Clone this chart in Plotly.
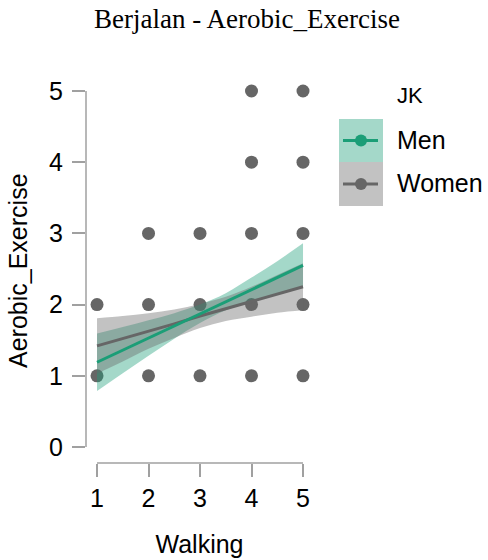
import plotly.graph_objects as go

# ---------------- data ----------------
title_text = "Berjalan - Aerobic_Exercise"
x_title = "Walking"
y_title = "Aerobic_Exercise"
x_ticks = [1, 2, 3, 4, 5]
y_ticks = [0, 1, 2, 3, 4, 5]

# observed points (overlapping values appear as single dots)
pts_x = [1, 1, 2, 2, 2, 3, 3, 3, 4, 4, 4, 4, 4, 5, 5, 5, 5, 5]
pts_y = [1, 2, 1, 2, 3, 1, 2, 3, 1, 2, 3, 4, 5, 1, 2, 3, 4, 5]

# fitted lines with confidence bands
fit_x = [1, 1.5, 2, 2.5, 3, 3.5, 4, 4.5, 5]
men_fit = [1.19, 1.36, 1.53, 1.70, 1.87, 2.04, 2.21, 2.38, 2.55]
men_lo = [0.785, 1.035, 1.28, 1.52, 1.74, 1.92, 2.04, 2.15, 2.24]
men_hi = [1.595, 1.685, 1.78, 1.88, 2.00, 2.16, 2.38, 2.61, 2.86]
women_fit = [1.42, 1.52, 1.63, 1.73, 1.84, 1.94, 2.04, 2.15, 2.25]
women_lo = [1.03, 1.20, 1.38, 1.53, 1.67, 1.77, 1.83, 1.885, 1.92]
women_hi = [1.81, 1.84, 1.88, 1.93, 2.01, 2.11, 2.25, 2.415, 2.58]

legend_title = "JK"
groups = ["Men", "Women"]

# ---------------- style ----------------
W, H = 488, 560
PW, PH = 227, 386
ML, MT = 86, 77
MR, MB = W - ML - PW, H - MT - PH
GREEN = "#1b9e77"
GREY = "#666666"
GREEN_FILL = "rgba(27,158,119,0.40)"
GREY_FILL = "rgba(102,102,102,0.40)"
AX = "#a0a0a0"
SANS = "Liberation Sans, Arial, sans-serif"
SERIF = "Liberation Serif, Times New Roman, serif"


def px(xs):
    return (xs - ML) / PW


def py(ys):
    return (H - MB - ys) / PH


fig = go.Figure()

fig.add_trace(go.Scatter(x=pts_x, y=pts_y, mode="markers",
                         marker=dict(color=GREY, size=13, line=dict(width=0)),
                         showlegend=False, hoverinfo="x+y"))


def band(lo, hi, fill):
    fig.add_trace(go.Scatter(x=fit_x, y=lo, mode="lines", line=dict(width=0, shape="spline"),
                             showlegend=False, hoverinfo="skip"))
    fig.add_trace(go.Scatter(x=fit_x, y=hi, mode="lines", line=dict(width=0, shape="spline"),
                             fill="tonexty", fillcolor=fill, showlegend=False, hoverinfo="skip"))


band(men_lo, men_hi, GREEN_FILL)
band(women_lo, women_hi, GREY_FILL)

fig.add_trace(go.Scatter(x=fit_x, y=women_fit, mode="lines", line=dict(color=GREY, width=3),
                         name=groups[1], showlegend=False))
fig.add_trace(go.Scatter(x=fit_x, y=men_fit, mode="lines", line=dict(color=GREEN, width=3),
                         name=groups[0], showlegend=False))

shapes = []
# axis lines limited to the tick range
shapes.append(dict(type="line", xref="x", yref="paper", x0=x_ticks[0], x1=x_ticks[-1],
                   y0=0, y1=0, line=dict(color=AX, width=1.5)))
shapes.append(dict(type="line", xref="paper", yref="y", x0=0, x1=0,
                   y0=y_ticks[0], y1=y_ticks[-1], line=dict(color=AX, width=1.5)))

annotations = []
# y-axis title
annotations.append(dict(text=y_title, xref="paper", yref="paper", x=px(18), y=py(271),
                        xanchor="center", yanchor="middle", textangle=-90, showarrow=False,
                        font=dict(family=SANS, size=25, color="#000000")))
# manual legend
annotations.append(dict(text=legend_title, xref="paper", yref="paper", x=px(395), y=py(96),
                        xanchor="left", yanchor="middle", showarrow=False,
                        font=dict(family=SANS, size=22, color="#000000")))
leg = [(groups[0], GREEN, GREEN_FILL, 119, 162), (groups[1], GREY, GREY_FILL, 162, 206)]
for name, col, fill, top, bot in leg:
    shapes.append(dict(type="rect", xref="paper", yref="paper", x0=px(339), x1=px(383),
                       y0=py(bot), y1=py(top), fillcolor=fill, line=dict(width=0), layer="above"))
    cy = (top + bot) / 2
    shapes.append(dict(type="line", xref="paper", yref="paper", x0=px(343), x1=px(378),
                       y0=py(cy), y1=py(cy), line=dict(color=col, width=3), layer="above"))
    shapes.append(dict(type="circle", xref="paper", yref="paper", x0=px(361 - 6), x1=px(361 + 6),
                       y0=py(cy + 6), y1=py(cy - 6), fillcolor=col, line=dict(width=0), layer="above"))
    annotations.append(dict(text=name, xref="paper", yref="paper", x=px(395), y=py(cy - 1),
                            xanchor="left", yanchor="middle", showarrow=False,
                            font=dict(family=SANS, size=25, color="#000000")))

fig.update_layout(
    width=W, height=H,
    margin=dict(l=ML, r=MR, t=MT, b=MB),
    paper_bgcolor="white", plot_bgcolor="white",
    title=dict(text=title_text, x=247 / W, xref="container", xanchor="center",
               y=1 - 9 / H, yref="container", yanchor="top",
               font=dict(family=SERIF, size=27, color="#000000")),
    xaxis=dict(range=[0.786, 5.194], tickvals=x_ticks, ticks="outside", ticklen=13,
               tickwidth=1.5, tickcolor=AX, showline=False, showgrid=False, zeroline=False,
               automargin=False,
               tickfont=dict(family=SANS, size=25, color="#000000"),
               title=dict(text=x_title, font=dict(family=SANS, size=25, color="#000000"), standoff=24)),
    yaxis=dict(range=[-0.225, 5.197], tickvals=y_ticks, ticks="outside", ticklen=13,
               tickwidth=1.5, tickcolor=AX, showline=False, showgrid=False, zeroline=False,
               automargin=False, ticklabelstandoff=4,
               tickfont=dict(family=SANS, size=25, color="#000000")),
    shapes=shapes, annotations=annotations, showlegend=False,
)

fig.write_html("out.html", config={"displayModeBar": False},
               post_script="document.body.style.margin='0';document.body.style.overflow='hidden';")
